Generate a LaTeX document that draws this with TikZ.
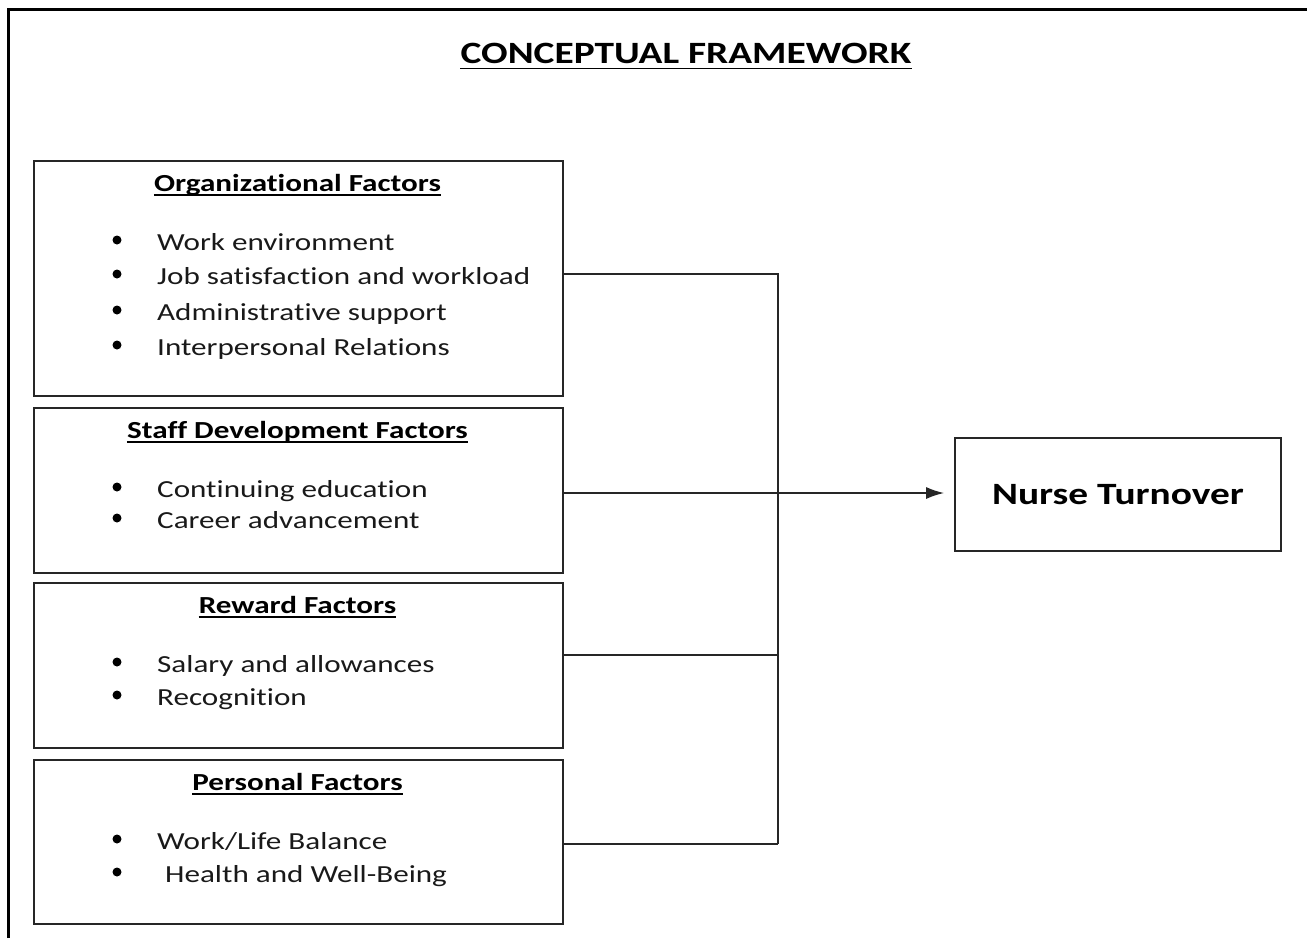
\documentclass[tikz,border=0pt]{standalone}
\usepackage{fontspec}
\setmainfont{Carlito}[FakeStretch=1.27,Ligatures=NoCommon]
\usetikzlibrary{arrows.meta}
\begin{document}
\begin{tikzpicture}[x=1pt,y=-1pt,
  fbox/.style={draw=black!85, line width=1.7pt, anchor=north west, inner sep=0pt},
  head/.style={font=\fontsize{24.5}{28}\selectfont\bfseries, anchor=base, inner sep=0pt},
  item/.style={font=\fontsize{24.5}{28}\selectfont, anchor=base west, inner sep=0pt, text=black!90},
  dot/.style={circle, fill=black, inner sep=0pt, minimum size=9pt},
  link/.style={draw=black!85, line width=1.7pt},
  uline/.style={line width=1.4pt}]
\useasboundingbox (0,0) rectangle (1307,938);
\draw[line width=3pt] (8,938) -- (8,9) -- (1307,9);

% title
\node[font=\fontsize{31}{36}\selectfont\bfseries, anchor=base, inner sep=0pt] (title) at (686,63) {CONCEPTUAL FRAMEWORK};
\draw[uline, line width=1.8pt] ([yshift=-5.5pt]title.base west) -- ([yshift=-5.5pt]title.base east);

% boxes
\node[fbox, minimum width=529pt, minimum height=235pt] (org) at (33,160) {};
\node[fbox, minimum width=529pt, minimum height=165pt] (staff) at (33,407) {};
\node[fbox, minimum width=529pt, minimum height=165pt] (reward) at (33,582) {};
\node[fbox, minimum width=529pt, minimum height=164pt] (pers) at (33,759) {};
\node[fbox, anchor=center, minimum width=326pt, minimum height=113pt,
  font=\fontsize{31}{36}\selectfont\bfseries] (nt) at (1118,494.5) {Nurse Turnover};

% headings
\node[head] (h1) at (297.5,191) {Organizational Factors};
\node[head] (h2) at (297.5,438) {Staff Development Factors};
\node[head] (h3) at (297.5,613) {Reward Factors};
\node[head] (h4) at (297.5,790) {Personal Factors};
\foreach \h in {h1,h2,h3,h4}{
  \draw[uline] ([yshift=-4pt]\h.base west) -- ([yshift=-4pt]\h.base east);
}

% items
\node[dot] (d11) at (117,240) {}; \node[item] (t11) at (157,250) {Work environment};
\node[dot] (d12) at (117,274) {}; \node[item] (t12) at (157,284) {Job satisfaction and workload};
\node[dot] (d13) at (117,310) {}; \node[item] (t13) at (157,320) {Administrative support};
\node[dot] (d14) at (117,345) {}; \node[item] (t14) at (157,355) {Interpersonal Relations};

\node[dot] (d21) at (117,487) {}; \node[item] (t21) at (157,497) {Continuing education};
\node[dot] (d22) at (117,518) {}; \node[item] (t22) at (157,528) {Career advancement};

\node[dot] (d31) at (117,662) {}; \node[item] (t31) at (157,672) {Salary and allowances};
\node[dot] (d32) at (117,695) {}; \node[item] (t32) at (157,705) {Recognition};

\node[dot] (d41) at (117,839) {}; \node[item] (t41) at (157,849) {Work/Life Balance};
\node[dot] (d42) at (117,872) {}; \node[item] (t42) at (165,882) {Health and Well-Being};

% connectors
\coordinate (jo) at (778,274);
\coordinate (jr) at (778,655);
\coordinate (jp) at (778,844);
\coordinate (ja) at (778,493);
\draw[link] (org.east |- jo) -- (jo) -- (jp);
\draw[link] (reward.east |- jr) -- (jr);
\draw[link] (pers.east |- jp) -- (jp);
\draw[link, -{Latex[length=18pt,width=12pt]}, shorten >=10pt] (staff.east |- ja) -- (nt.west |- ja);
\end{tikzpicture}
\end{document}
